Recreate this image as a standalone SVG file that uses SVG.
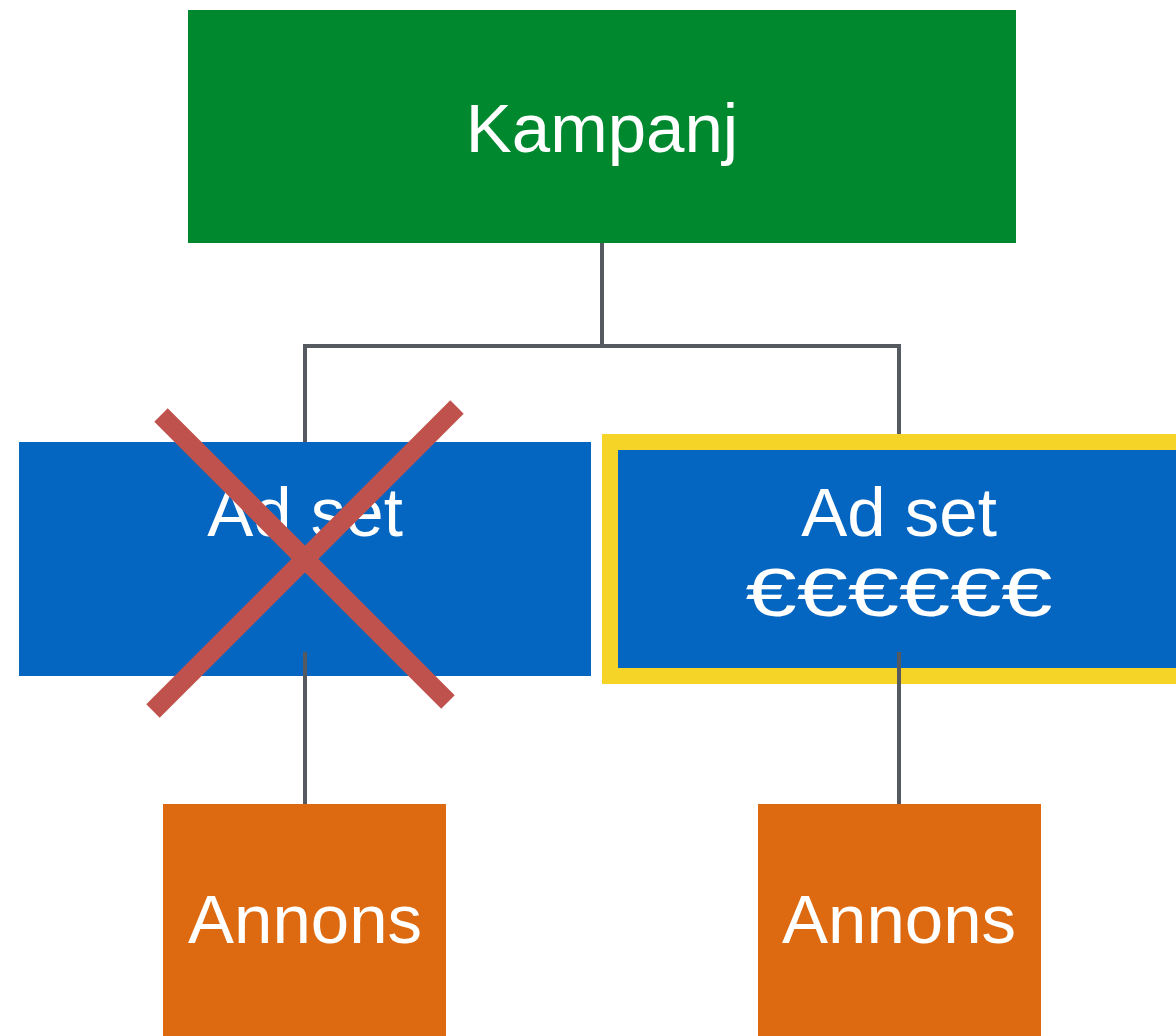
<svg xmlns="http://www.w3.org/2000/svg" width="1176" height="1036" viewBox="0 0 1176 1036">
<style>
.lbl{font-family:"Liberation Sans",Arial,Helvetica,sans-serif;font-size:69px;fill:#ffffff;text-anchor:middle}
.conn{stroke:#555A60;stroke-width:4;fill:none}
.adset{fill:#0466C0}
.ad{fill:#DD6A10}
.cross{stroke:#C0524E;stroke-width:19;stroke-linecap:butt}
</style>
<rect width="1176" height="1036" fill="#ffffff"/>
<g id="kampanj">
<rect x="188" y="10" width="828" height="233" fill="#00882F"/>
<text class="lbl" x="602" y="152">Kampanj</text>
</g>
<g id="adset-left">
<rect class="adset" x="19" y="442" width="572" height="234"/>
<text class="lbl" x="305" y="536">Ad set</text>
</g>
<g id="adset-right">
<rect class="adset" x="610" y="442" width="578" height="234" stroke="#F5D327" stroke-width="16"/>
<text class="lbl" x="899" y="536">Ad set</text>
<text class="lbl" x="899" y="616" textLength="307" lengthAdjust="spacingAndGlyphs">€€€€€€</text>
</g>
<g id="annons-left">
<rect class="ad" x="163" y="804" width="283" height="240"/>
<text class="lbl" x="305" y="943">Annons</text>
</g>
<g id="annons-right">
<rect class="ad" x="758" y="804" width="283" height="240"/>
<text class="lbl" x="899" y="943">Annons</text>
</g>
<g id="connectors">
<path class="conn" d="M602 243 V346"/>
<path class="conn" d="M305 442 V346 H899 V434"/>
<path class="conn" d="M305 652 V804"/>
<path class="conn" d="M899 652 V804"/>
</g>
<g id="cross">
<line class="cross" x1="161" y1="415" x2="448" y2="702"/>
<line class="cross" x1="457" y1="407" x2="153" y2="711"/>
</g>
</svg>
